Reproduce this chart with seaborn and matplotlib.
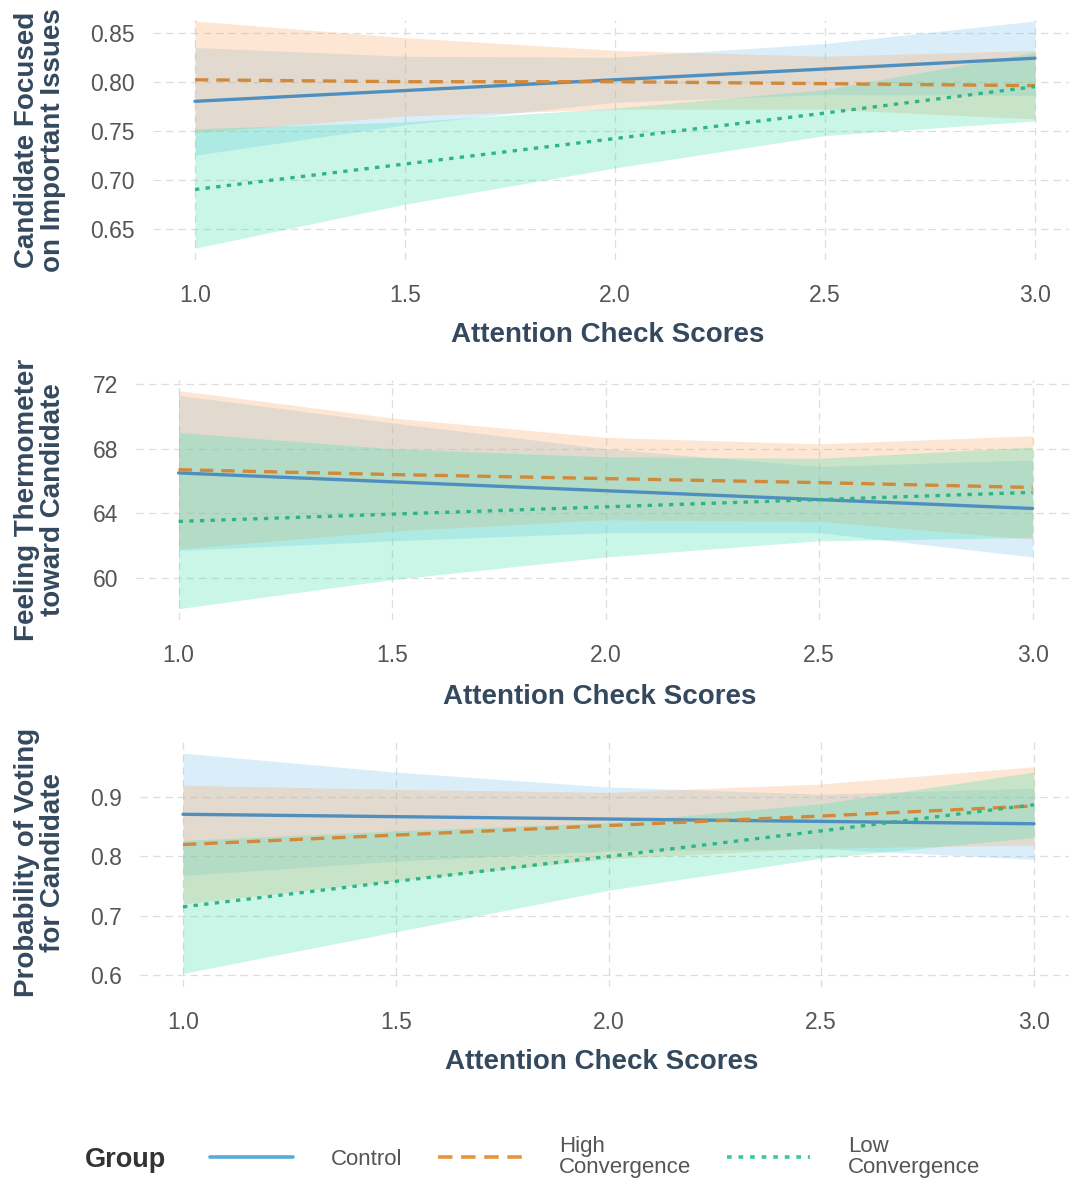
import matplotlib
matplotlib.use("Agg")
import matplotlib.pyplot as plt
import seaborn as sns
import pandas as pd
from matplotlib.lines import Line2D

sns.set_theme(style="white")
plt.rcParams['font.family'] = ['Liberation Sans', 'DejaVu Sans']

# ---------------- data ----------------
x_vals = [1.0, 1.5, 2.0, 2.5, 3.0]
groups = ["Control", "High Convergence", "Low Convergence"]
group_labels = ["Control", "High\nConvergence", "Low\nConvergence"]

# Panel 1: Candidate Focused on Important Issues
p1_ctrl_fit = [0.780, 0.791, 0.802, 0.813, 0.824]
p1_ctrl_lo = [0.725, 0.756, 0.779, 0.787, 0.786]
p1_ctrl_hi = [0.835, 0.826, 0.825, 0.839, 0.862]
p1_high_fit = [0.802, 0.800, 0.800, 0.798, 0.796]
p1_high_lo = [0.748, 0.765, 0.772, 0.772, 0.762]
p1_high_hi = [0.862, 0.845, 0.832, 0.826, 0.832]
p1_low_fit = [0.690, 0.716, 0.742, 0.768, 0.795]
p1_low_lo = [0.630, 0.675, 0.712, 0.745, 0.760]
p1_low_hi = [0.752, 0.759, 0.773, 0.792, 0.830]

# Panel 2: Feeling Thermometer toward Candidate
p2_ctrl_fit = [66.5, 65.95, 65.4, 64.85, 64.3]
p2_ctrl_lo = [61.7, 62.3, 62.8, 62.8, 61.3]
p2_ctrl_hi = [71.3, 69.6, 68.0, 66.9, 67.3]
p2_high_fit = [66.7, 66.4, 66.15, 65.9, 65.6]
p2_high_lo = [61.8, 62.9, 63.6, 63.5, 62.4]
p2_high_hi = [71.6, 69.9, 68.7, 68.3, 68.8]
p2_low_fit = [63.5, 63.95, 64.4, 64.85, 65.3]
p2_low_lo = [58.1, 59.9, 61.3, 62.3, 62.5]
p2_low_hi = [69.0, 68.0, 67.5, 67.4, 68.1]

# Panel 3: Probability of Voting for Candidate
p3_ctrl_fit = [0.871, 0.867, 0.863, 0.859, 0.855]
p3_ctrl_lo = [0.768, 0.792, 0.809, 0.813, 0.795]
p3_ctrl_hi = [0.974, 0.942, 0.917, 0.905, 0.915]
p3_high_fit = [0.820, 0.836, 0.852, 0.868, 0.885]
p3_high_lo = [0.720, 0.759, 0.796, 0.814, 0.819]
p3_high_hi = [0.920, 0.913, 0.908, 0.922, 0.951]
p3_low_fit = [0.715, 0.758, 0.800, 0.843, 0.887]
p3_low_lo = [0.603, 0.673, 0.743, 0.797, 0.832]
p3_low_hi = [0.827, 0.843, 0.857, 0.889, 0.942]

y_titles = ["Candidate Focused\non Important Issues",
            "Feeling Thermometer\ntoward Candidate",
            "Probability of Voting\nfor Candidate"]
y_ticks = [[0.65, 0.70, 0.75, 0.80, 0.85], [60, 64, 68, 72], [0.6, 0.7, 0.8, 0.9]]
y_ticklabels = [["0.65", "0.70", "0.75", "0.80", "0.85"], ["60", "64", "68", "72"],
                ["0.6", "0.7", "0.8", "0.9"]]
x_ticks = [1.0, 1.5, 2.0, 2.5, 3.0]
x_ticklabels = ["1.0", "1.5", "2.0", "2.5", "3.0"]
x_title = "Attention Check Scores"

panels = [
    [(p1_ctrl_fit, p1_ctrl_lo, p1_ctrl_hi), (p1_high_fit, p1_high_lo, p1_high_hi), (p1_low_fit, p1_low_lo, p1_low_hi)],
    [(p2_ctrl_fit, p2_ctrl_lo, p2_ctrl_hi), (p2_high_fit, p2_high_lo, p2_high_hi), (p2_low_fit, p2_low_lo, p2_low_hi)],
    [(p3_ctrl_fit, p3_ctrl_lo, p3_ctrl_hi), (p3_high_fit, p3_high_lo, p3_high_hi), (p3_low_fit, p3_low_lo, p3_low_hi)],
]

# ---------------- style ----------------
line_colors = {"Control": "#4F8FBF", "High Convergence": "#D3893A", "Low Convergence": "#2DB585"}
legend_colors = {"Control": "#58AADA", "High Convergence": "#E3953A", "Low Convergence": "#36CC94"}
band_colors = {"Control": "#7CC3F0", "High Convergence": "#F9A862", "Low Convergence": "#3FE0AC"}
dashes = {"Control": "", "High Convergence": (4, 2.4), "Low Convergence": (1.3, 1.9)}
W, H = 1069, 1181
fig = plt.figure(figsize=(W / 100, H / 100), dpi=100)

# axes boxes in pixels: left, top, bottom; x pixel of 1.0 and px per unit
boxes = [(153, 20, 260, 195, 420.0, (0.618, 0.863)),
         (136, 380, 620, 178.6, 427.0, (57.4, 72.25)),
         (140, 738, 987, 183, 425.5, (0.580, 0.9995))]
xtitle_y = [335, 697, 1062]

for i, (left, top, bottom, x1px, ppu, ylim) in enumerate(boxes):
    ax = fig.add_axes([left / W, 1 - bottom / H, (W - left) / W, (bottom - top) / H])
    rows = []
    for g, (fit, lo, hi) in zip(groups, panels[i]):
        for xv, f, l, h in zip(x_vals, fit, lo, hi):
            rows.append({"x": xv, "fit": f, "lo": l, "hi": h, "Group": g})
    df = pd.DataFrame(rows)
    for g in groups:
        sub = df[df["Group"] == g]
        ax.fill_between(sub["x"], sub["lo"], sub["hi"], color=band_colors[g],
                        alpha=0.28, linewidth=0, zorder=2)
    sns.lineplot(data=df, x="x", y="fit", hue="Group", style="Group",
                 palette=line_colors, dashes=dashes, linewidth=2.4,
                 ax=ax, legend=False, zorder=3)
    ax.set_xlim(1 - (x1px - left) / ppu, 1 + (W - x1px) / ppu)
    ax.set_ylim(*ylim)
    ax.set_xticks(x_ticks)
    ax.set_xticklabels(x_ticklabels)
    ax.set_yticks(y_ticks[i])
    ax.set_yticklabels(y_ticklabels[i])
    ax.tick_params(length=0, labelsize=16.5, labelcolor="#555555")
    ax.tick_params(axis="x", pad=17)
    ax.tick_params(axis="y", pad=13)
    ax.grid(True, color="#DDDDDD", linestyle=(0, (6, 4)), linewidth=0.9)
    ax.set_axisbelow(True)
    for s in ax.spines.values():
        s.set_visible(False)
    ax.set_xlabel("")
    ax.set_ylabel("")
    cy = 1 - (top + bottom) / 2 / H
    fig.text(40 / W, cy, y_titles[i], rotation=90, ha="center", va="center",
             multialignment="center", fontsize=20, fontweight="bold", color="#34495E",
             linespacing=1.0)
    fig.text(((left + W) / 2 - 3) / W, 1 - xtitle_y[i] / H, x_title, ha="center", va="center",
             fontsize=20, fontweight="bold", color="#34495E")

# legend
handles = [Line2D([0], [0], color=legend_colors[g], linewidth=2.6,
                  linestyle="-" if dashes[g] == "" else (0, dashes[g])) for g in groups]
fig.text(125 / W, 1 - 1160 / H, "Group", ha="center", va="center",
         fontsize=19.5, fontweight="bold", color="#333333")
leg = fig.legend(handles, group_labels, ncol=3, loc="center left",
                 bbox_to_anchor=(190 / W, 1 - 1157 / H), frameon=False,
                 fontsize=16, handlelength=3.75, handletextpad=1.7, columnspacing=1.6,
                 labelcolor="#555555")
for t in leg.get_texts():
    t.set_linespacing(1.0)

fig.savefig("out.png", dpi=100)
